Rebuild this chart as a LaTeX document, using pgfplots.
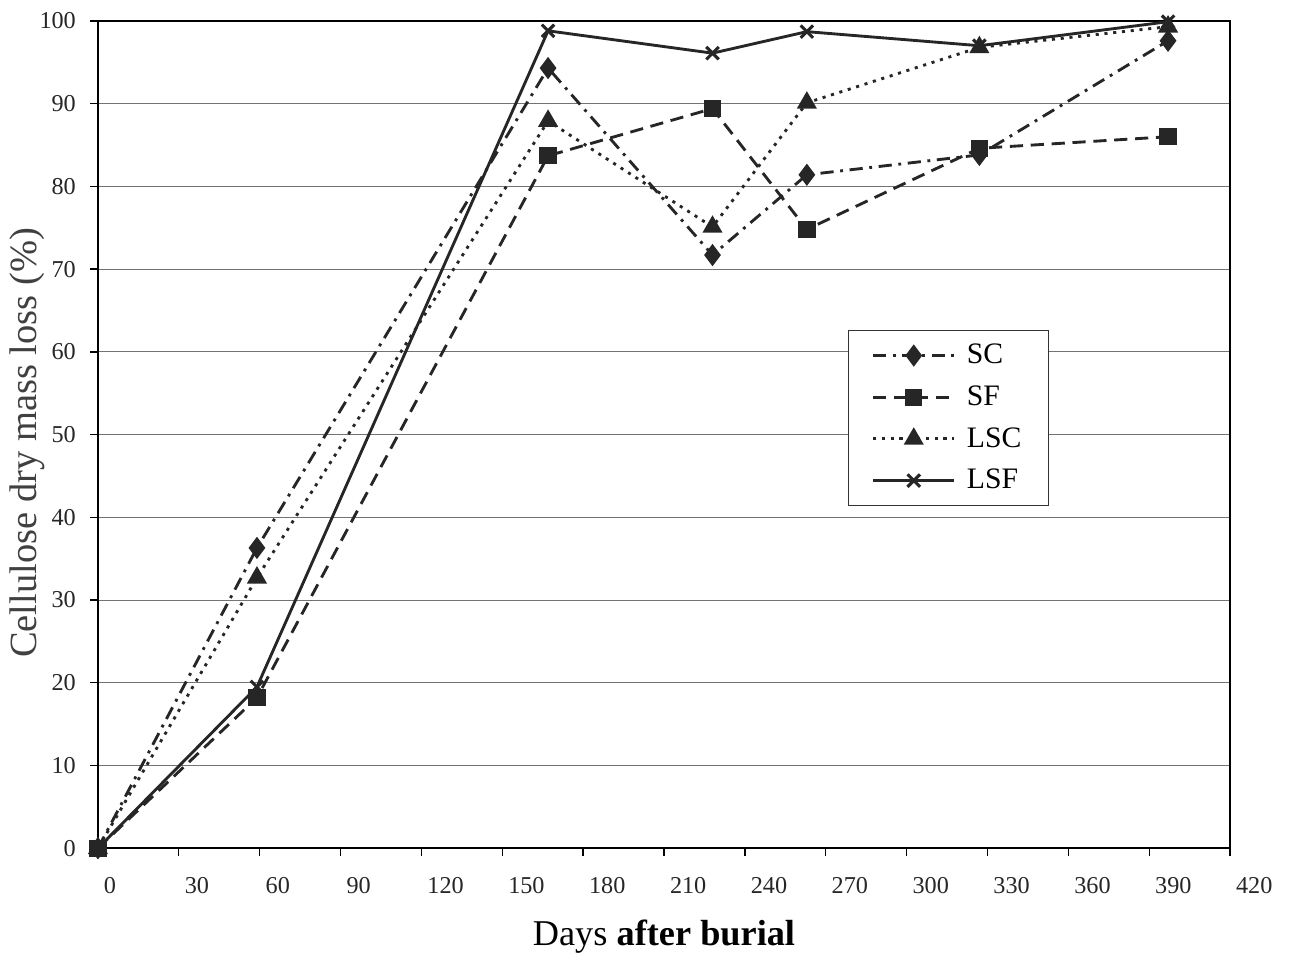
\documentclass[border=0pt]{standalone}
\usepackage{fontspec}
\setmainfont{Liberation Serif}
\usepackage{pgfplots}
\pgfplotsset{compat=1.18}
\begin{document}
\begin{tikzpicture}
\begin{axis}[
  scale only axis,
  width=514.5pt, height=376pt,
  xmin=0, xmax=420, ymin=0, ymax=100,
  xtick={0,30,...,420},
  ytick={0,10,...,100},
  tick pos=left,
  tick align=outside,
  major tick length=3.5pt,
  /pgf/number format/assume math mode=true,
  ymajorgrids,
  grid style={black!55, line width=0.5pt},
  axis line style={black, line width=1pt},
  every tick/.style={black, line width=0.6pt},
  ticklabel style={font=\fontsize{11}{13}\selectfont, text=black!85},
  xticklabel style={anchor=north west, xshift=-0.8pt, yshift=-6pt},
  yticklabel style={xshift=-3pt},
  xlabel={Days \textbf{after burial}},
  ylabel={Cellulose dry mass loss (\%)},
  xlabel style={at={(axis description cs:0.5,-0.107)}, anchor=center, font=\fontsize{16.5}{18}\selectfont},
  ylabel style={at={(axis description cs:-0.0625,0.49)}, anchor=center, font=\fontsize{17.5}{20}\selectfont, text=black!75},
  legend style={at={(axis description cs:0.6625,0.626)}, anchor=north west, draw=black!80, line width=0.5pt,
    font=\fontsize{13.5}{15}\selectfont, row sep=4.5pt, column sep=3pt, inner xsep=10.5pt, inner ysep=4pt},
  legend cell align=left,
  legend image code/.code={\draw[mark repeat=2,mark phase=2] plot coordinates {(0pt,0pt) (18.5pt,0pt) (37pt,0pt)};},
  clip=false,
]
\addplot[black!85, line width=1.3pt, dash pattern=on 6pt off 3pt on 1.3pt off 3pt,
  mark=diamond*, mark size=4pt, mark options={solid}]
  coordinates {(0,0)(59,36.3)(167,94.3)(228,71.7)(263,81.4)(327,83.8)(397,97.6)};
\addlegendentry{SC}
\addplot[black!85, line width=1.3pt, dash pattern=on 6pt off 3.5pt,
  mark=square*, mark size=3.3pt, mark options={solid}]
  coordinates {(0,0)(59,18.2)(167,83.7)(228,89.4)(263,74.8)(327,84.6)(397,86.0)};
\addlegendentry{SF}
\addplot[black!85, line width=1.3pt, dash pattern=on 1.4pt off 2.6pt,
  mark=triangle*, mark size=4pt, mark options={solid}]
  coordinates {(0,0)(59,32.7)(167,87.9)(228,75.1)(263,90.1)(327,96.8)(397,99.3)};
\addlegendentry{LSC}
\addplot[black!85, line width=1.3pt,
  mark=x, mark size=4pt, mark options={solid, line width=1.4pt}]
  coordinates {(0,0)(59,19.5)(167,98.8)(228,96.1)(263,98.7)(327,97.0)(397,99.9)};
\addlegendentry{LSF}
\end{axis}
\path (current axis.south west) ++(-44.5pt,-51pt);
\path (current axis.north east) ++(27.7pt,9.5pt);
\end{tikzpicture}
\end{document}
